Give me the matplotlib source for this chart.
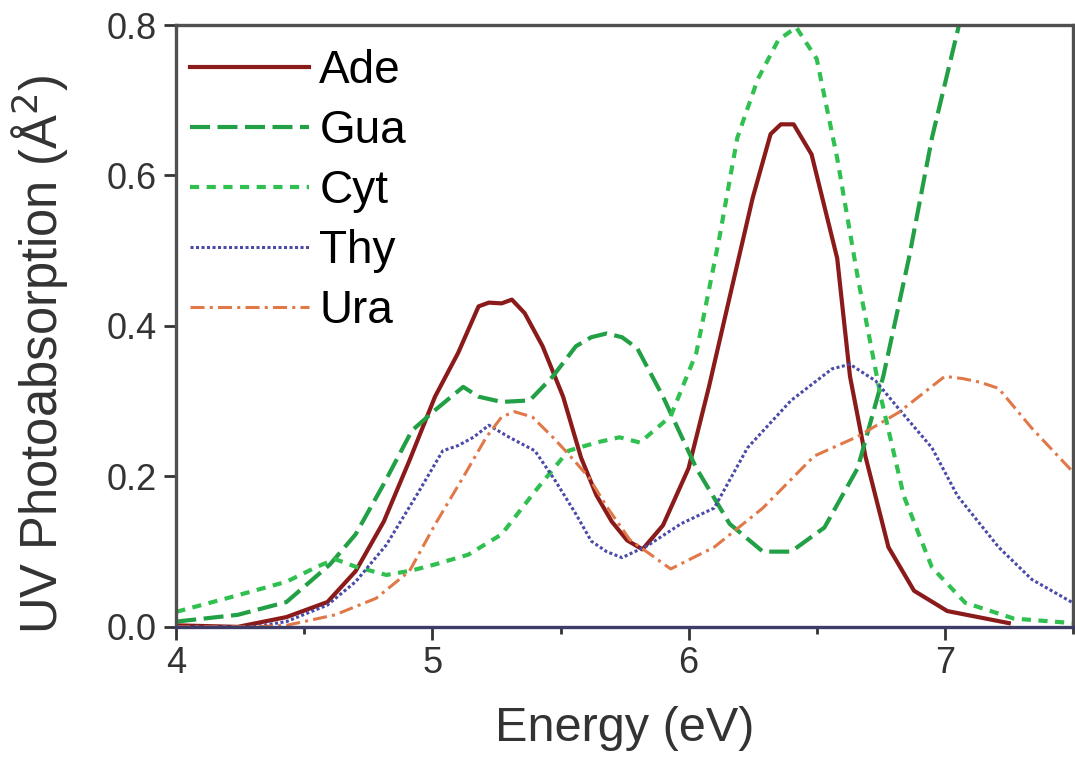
import numpy as np
import matplotlib
matplotlib.use('Agg')
import matplotlib.pyplot as plt

plt.rcParams['font.family'] = ['Liberation Sans', 'DejaVu Sans']

# ---- data ----
ade_e = [4.0, 4.24, 4.43, 4.59, 4.7, 4.81, 4.91, 5.01, 5.1, 5.18, 5.22, 5.27, 5.31, 5.36, 5.43,
         5.51, 5.58, 5.64, 5.7, 5.76, 5.82, 5.9, 6.0, 6.08, 6.16, 6.25, 6.32, 6.36, 6.41, 6.48,
         6.58, 6.63, 6.69, 6.78, 6.88, 7.01, 7.25]
ade_v = [0.002, 0.0, 0.013, 0.033, 0.074, 0.14, 0.221, 0.306, 0.364, 0.426, 0.431, 0.43, 0.435,
         0.417, 0.373, 0.306, 0.225, 0.175, 0.14, 0.115, 0.103, 0.135, 0.211, 0.32, 0.438, 0.57,
         0.655, 0.668, 0.668, 0.628, 0.49, 0.333, 0.227, 0.106, 0.048, 0.021, 0.005]

gua_e = [4.0, 4.24, 4.43, 4.6, 4.7, 4.81, 4.92, 5.01, 5.07, 5.12, 5.18, 5.27, 5.38, 5.47, 5.56,
         5.62, 5.68, 5.74, 5.8, 5.9, 6.03, 6.16, 6.29, 6.4, 6.53, 6.66, 6.76, 6.86, 6.95, 7.05, 7.1]
gua_v = [0.007, 0.016, 0.033, 0.083, 0.123, 0.19, 0.261, 0.288, 0.305, 0.319, 0.306, 0.299, 0.301,
         0.333, 0.373, 0.385, 0.39, 0.385, 0.37, 0.306, 0.211, 0.137, 0.1, 0.1, 0.132, 0.211,
         0.333, 0.49, 0.65, 0.792, 0.87]

cyt_e = [4.0, 4.24, 4.43, 4.55, 4.62, 4.7, 4.82, 4.92, 5.01, 5.14, 5.27, 5.4, 5.53, 5.64, 5.73,
         5.81, 5.93, 6.03, 6.12, 6.19, 6.27, 6.35, 6.42, 6.5, 6.58, 6.66, 6.75, 6.84, 6.95, 7.08,
         7.27, 7.5]
cyt_v = [0.02, 0.042, 0.06, 0.08, 0.09, 0.08, 0.069, 0.075, 0.083, 0.096, 0.123, 0.18, 0.234,
         0.245, 0.252, 0.245, 0.28, 0.364, 0.517, 0.65, 0.728, 0.78, 0.797, 0.755, 0.623, 0.465,
         0.306, 0.174, 0.079, 0.032, 0.011, 0.005]

thy_e = [4.0, 4.3, 4.43, 4.59, 4.7, 4.82, 4.94, 5.04, 5.1, 5.16, 5.22, 5.3, 5.4, 5.48, 5.56, 5.62,
         5.68, 5.74, 5.84, 5.97, 6.1, 6.23, 6.4, 6.56, 6.63, 6.73, 6.82, 6.95, 7.05, 7.21, 7.34, 7.5]
thy_v = [0.0, 0.0, 0.007, 0.029, 0.06, 0.109, 0.176, 0.234, 0.241, 0.252, 0.268, 0.252, 0.234,
         0.194, 0.15, 0.114, 0.1, 0.092, 0.108, 0.137, 0.158, 0.238, 0.301, 0.343, 0.349, 0.327,
         0.29, 0.238, 0.174, 0.106, 0.063, 0.032]

ura_e = [4.0, 4.3, 4.43, 4.62, 4.78, 4.91, 5.01, 5.12, 5.21, 5.27, 5.32, 5.39, 5.47, 5.53, 5.61,
         5.68, 5.77, 5.93, 6.1, 6.29, 6.49, 6.66, 6.82, 7.0, 7.07, 7.14, 7.21, 7.34, 7.5]
ura_v = [0.0, 0.0, 0.002, 0.016, 0.038, 0.074, 0.136, 0.199, 0.252, 0.279, 0.286, 0.279, 0.252,
         0.23, 0.199, 0.16, 0.116, 0.077, 0.106, 0.158, 0.227, 0.253, 0.285, 0.333, 0.33, 0.325,
         0.317, 0.264, 0.206]

fig = plt.figure(figsize=(10.75, 7.58), dpi=100)
ax = fig.add_axes([0.164, 0.173, 0.834, 0.794])

ax.plot(ade_e, ade_v, color='#8b1a1a', lw=3.0, label='Ade')
ax.plot(gua_e, gua_v, color='#22a045', lw=3.0, dashes=(4.8, 1.8), label='Gua')
ax.plot(cyt_e, cyt_v, color='#30c050', lw=3.0, dashes=(2.2, 1.8), label='Cyt')
ax.plot(thy_e, thy_v, color='#4a4aa8', lw=2.2, dashes=(1, 0.8), label='Thy')
ax.plot(ura_e, ura_v, color='#e07848', lw=2.2, dashes=(4.6, 1.7, 1, 1.7), label='Ura')

ax.set_xlim(4, 7.5)
ax.set_ylim(0, 0.8)
ax.set_xticks([4, 5, 6, 7])
ax.set_xticks([4.5, 5.5, 6.5, 7.5], minor=True)
ax.set_yticks([0.0, 0.2, 0.4, 0.6, 0.8])
ax.set_yticklabels(['0.0', '0.2', '0.4', '0.6', '0.8'])
ax.tick_params(axis='both', which='major', direction='out', length=9, width=2,
               labelsize=26, color='#333333', labelcolor='#333333', pad=5)
ax.tick_params(axis='x', which='minor', direction='out', length=5, width=2, color='#333333')
for s in ax.spines.values():
    s.set_linewidth(2.4)
    s.set_color('#505050')
ax.spines['bottom'].set_color('#3c3c66')

ax.set_xlabel('Energy (eV)', fontsize=35, color='#333333', labelpad=18)
ax.set_ylabel('UV Photoabsorption (Å$^2$)', fontsize=36.5, color='#333333')
ax.yaxis.set_label_coords(-0.118, 0.452)

leg = ax.legend(loc='upper left', bbox_to_anchor=(0.0, 0.983), frameon=False, fontsize=33,
                handlelength=2.6, handletextpad=0.22, labelspacing=0.35,
                borderaxespad=0.0, borderpad=0.3)

fig.savefig('out.png', dpi=100)
